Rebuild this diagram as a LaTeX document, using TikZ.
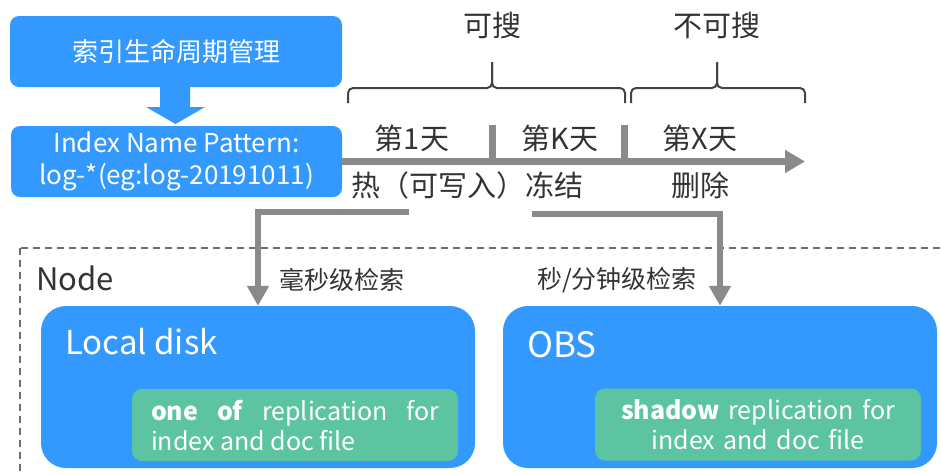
\documentclass[tikz,border=0pt]{standalone}
\usepackage{fontspec}
\setmainfont{Noto Sans CJK SC}
\usepackage{tikz}
\usetikzlibrary{
  arrows.meta,
  positioning
}
\definecolor{ilmBlue}{HTML}{3399FF}
\definecolor{ilmGreen}{HTML}{5CC4A0}
\definecolor{ilmGray}{HTML}{8A8A8A}
\definecolor{ilmText}{HTML}{333333}
\definecolor{ilmBrace}{HTML}{444444}
\definecolor{ilmFrameGray}{HTML}{6E6E6E}
\newcommand{\ilmfs}[2]{\fontsize{#1}{#2}\selectfont}
\tikzset{
  ilmBox/.style={
    fill=ilmBlue,
    rounded corners=9pt,
    text=white,
    align=center,
    inner sep=0pt
  },
  ilmLabel/.style={text=ilmText, inner sep=0pt, font={\ilmfs{29}{34}}},
  ilmSearch/.style={text=ilmText, inner sep=0pt, font={\ilmfs{25}{30}}},
  ilmTimeline/.style={
    draw=ilmGray,
    line width=6.5pt,
    -{Triangle[length=20pt,width=22pt]}
  },
  ilmTick/.style={draw=ilmGray, line width=7pt},
  ilmBraceLine/.style={draw=ilmBrace, line width=2pt, rounded corners=5pt},
  ilmFlow/.style={
    draw=ilmGray,
    line width=6pt,
    -{Triangle[length=20pt,width=21pt]}
  },
  ilmFrame/.style={
    draw=ilmFrameGray,
    line width=1.6pt,
    dash pattern=on 7pt off 5pt
  },
  ilmStore/.style={
    fill=ilmBlue,
    rounded corners=25pt,
    minimum width=434pt,
    minimum height=162pt,
    inner sep=0pt
  },
  ilmStoreLabel/.style={
    text=white,
    anchor=west,
    inner sep=0pt,
    font={\ilmfs{33}{38}}
  },
  ilmReplica/.style={
    fill=ilmGreen,
    rounded corners=10pt,
    text=white,
    text width=288pt,
    inner xsep=19pt,
    inner ysep=0pt,
    minimum height=72pt,
    font={\ilmfs{25}{30}}
  }
}

\begin{document}
\begin{tikzpicture}[x=1pt,y=-1pt]
  \useasboundingbox (0,0) rectangle (941,474);
  % policy and index pattern
  \node[ilmBox, minimum width=332pt, minimum height=71pt,
    font={\ilmfs{26}{30}}] (policy) at (176,51.5) {索引生命周期管理};
  \node[ilmBox, minimum width=331pt, minimum height=71pt,
    font={\ilmfs{26}{32}}] (pattern) at (176.5,161.5)
    {Index Name Pattern:\\log-*(eg:log-20191011)};
  \fill[ilmBlue] (160,87) -- (190,87) -- (190,107) -- (205,107)
    -- (175.5,124) -- (146,107) -- (160,107) -- cycle;
  % timeline
  \coordinate (timeEnd) at (805,161.5);
  \draw[ilmTimeline] (pattern.east) -- (timeEnd);
  \draw[ilmTick] (492,125) -- (492,161.5);
  \draw[ilmTick] (624,125) -- (624,161.5);
  \node[ilmLabel] (day1) at (412,138) {第1天};
  \node[ilmLabel] (dayK) at (560,138) {第K天};
  \node[ilmLabel] (dayX) at (700,138) {第X天};
  \node[ilmLabel, anchor=west] (hotFrozen) at (351,185) {热（可写入）冻结};
  \node[ilmLabel] (deleted) at (700,185) {删除};
  % braces
  \node[ilmLabel] (searchable) at (492,25) {可搜};
  \node[ilmLabel] (unsearchable) at (717,25) {不可搜};
  \draw[ilmBraceLine] (348,103) |- (492,88) -- (492,62);
  \draw[ilmBraceLine] (625,103) |- (492,88) -- (492,62);
  \draw[ilmBraceLine] (631,103) |- (717,88) -- (717,62);
  \draw[ilmBraceLine] (805,103) |- (717,88) -- (717,62);
  % node frame and storage
  \draw[ilmFrame] (20,248) rectangle (960,500);
  \node[text=ilmText, anchor=west, inner sep=0pt, font={\ilmfs{31}{36}}]
    (nodeLabel) at (36,278) {Node};
  \node[ilmStore] (local) at (258,387) {};
  \node[ilmStore] (obs) at (720,387) {};
  \node[ilmStoreLabel] (localLabel) at (65,342) {Local disk};
  \node[ilmStoreLabel, font={\ilmfs{35}{40}}] (obsLabel) at (527,345) {OBS};
  \node[ilmReplica, align=justify] (localReplica) at (295,425)
    {\textbf{one of} replication for\linebreak index and doc file};
  \node[ilmReplica, align=center] (obsReplica) at (758,424.5)
    {\textbf{shadow} replication for\\index and doc file};
  % tiers to storage
  \coordinate (hotTap) at (409,212);
  \coordinate (coldTap) at (532,214);
  \draw[ilmFlow] (hotTap) -| (local.north);
  \draw[ilmFlow] (coldTap) -| (obs.north);
  \node[ilmSearch] (fastSearch) at (342,280) {毫秒级检索};
  \node[ilmSearch] (slowSearch) at (617,280) {秒/分钟级检索};
\end{tikzpicture}
\end{document}
